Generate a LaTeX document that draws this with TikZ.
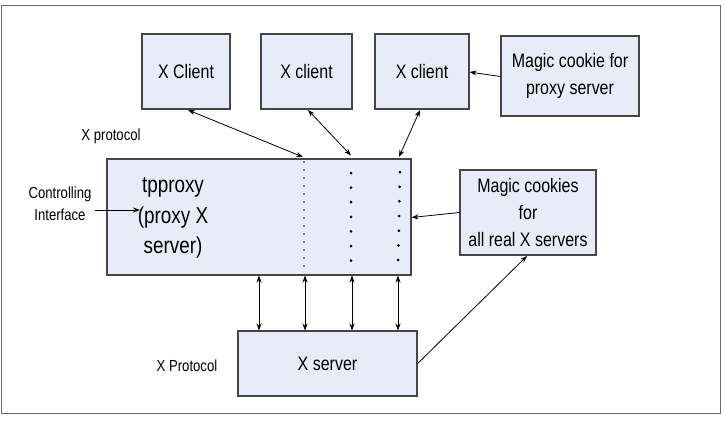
\documentclass[tikz,border=0pt]{standalone}
\usepackage{fontspec}
\setmainfont{Liberation Sans}[FakeStretch=0.82]
\usetikzlibrary{arrows.meta}
\definecolor{boxfill}{RGB}{232,236,248}
\definecolor{boxline}{RGB}{70,70,70}
\begin{document}
\begin{tikzpicture}[x=1pt,y=-1pt,
  box/.style={draw=boxline,line width=1.3pt,fill=boxfill,inner sep=0pt,align=center,
    font=\fontsize{19.5}{27}\selectfont},
  lbl/.style={inner sep=0pt,align=center,font=\fontsize{16}{22}\selectfont},
  conn/.style={line width=0.8pt,{Stealth[length=7pt,width=5pt]}-{Stealth[length=7pt,width=5pt]}},
  oneway/.style={line width=0.8pt,-{Stealth[length=7pt,width=5pt]}},
  bigdot/.style={fill=black,draw=none}]
\useasboundingbox (0,0) rectangle (724,424);
\draw[draw=boxline!80,line width=1.3pt] (1.5,5.5) rectangle (720.5,413.5);
% boxes
\node[box,minimum width=88pt,minimum height=75pt] (xc1) at (186,71.5) {X Client};
\node[box,minimum width=91pt,minimum height=75pt] (xc2) at (306.5,71.5) {X client};
\node[box,minimum width=94pt,minimum height=75pt] (xc3) at (422,71.5) {X client};
\node[box,minimum width=138pt,minimum height=80pt] (mc1) at (570,76) {Magic cookie for\\proxy server};
\node[box,minimum width=304pt,minimum height=116pt] (tp) at (259,217) {};
\node[inner sep=0pt,align=center,font=\fontsize{23}{30.5}\selectfont] (tptext) at (173,218) {tpproxy\\(proxy X\\server)};
\node[box,minimum width=136pt,minimum height=85pt] (mc2) at (528,212.5) {Magic cookies\\for\\all real X servers};
\node[box,minimum width=179pt,minimum height=65pt] (xs) at (327.5,363.5) {X server};
% labels
\node[lbl] (lxp) at (111,136) {X protocol};
\node[lbl] (lci) at (60,204) {Controlling\\Interface};
\node[lbl] (lXP) at (187,366) {X Protocol};
% dotted columns
\foreach \i in {0,...,13} {
  \fill (304,162+8*\i) circle (0.8pt);
}
\foreach \y in {173,187.6,202.2,216.8,231.4,246,260.6} {
  \fill (351,\y) circle (1.5pt);
}
\foreach \y/\x in {172/400,186.7/399.7,201.3/399.4,216/399.1,230.7/398.8,245.3/398.5,260/398.2} {
  \fill (\x,\y) circle (1.5pt);
}
% connector endpoints
\coordinate (t1) at (303,157);
\coordinate (t2) at (351,155.5);
\coordinate (t3) at (399,157);
\coordinate (c1) at (188,110);
\coordinate (c2) at (308,110);
\coordinate (c3) at (420,110);
\coordinate (ci) at (95,210);
\coordinate (cit) at (140,210);
% client connectors
\draw[conn] (c1) -- (t1);
\draw[conn] (c2) -- (t2);
\draw[conn] (c3) -- (t3);
\draw[oneway] (mc1.west |- 0,76.5) -- (469.5,72);
\draw[oneway] (ci) -- (cit);
\draw[oneway] (mc2.west) -- (411.5,217.5);
\draw[line width=0.8pt,-{Stealth[length=7pt,width=5pt]}] (xs.east) -- (527,256);
% vertical connectors
\foreach \x in {259,305,352,398} {
  \draw[conn] (\x,275.5) -- (\x,330.5);
}
\end{tikzpicture}
\end{document}
